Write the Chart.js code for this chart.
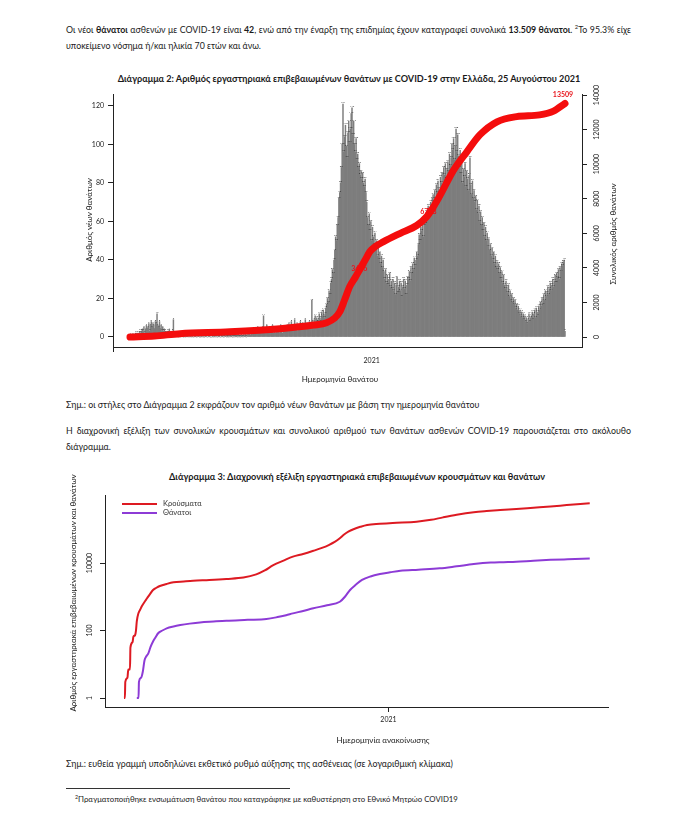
<!DOCTYPE html>
<html><head><meta charset="utf-8">
<script src="https://cdn.jsdelivr.net/npm/chart.js@4.4.1/dist/chart.umd.min.js"></script>
<style>
html,body{margin:0;padding:0;background:#fff;}
body{width:694px;height:817px;position:relative;overflow:hidden;font-family:Lato,"Noto Sans","DejaVu Sans",sans-serif;color:#1a1a1a;}
.t{position:absolute;white-space:nowrap;font-size:8.8px;line-height:12px;}
.t sup{font-size:5.8px;vertical-align:top;line-height:8px;position:relative;top:-1px;}
.ttl{position:absolute;white-space:nowrap;font-weight:bold;font-size:9.1px;line-height:12px;text-align:center;}
.fn{position:absolute;white-space:nowrap;font-size:7.8px;line-height:10px;}
.fn sup{font-size:5.3px;vertical-align:top;line-height:6px;}
canvas{position:absolute;left:0;}
</style></head>
<body>
<div class="t" data-w="565" style="left:66px;top:24px">Οι νέοι <b>θάνατοι</b> ασθενών με COVID-19 είναι <b>42</b>, ενώ από την έναρξη της επιδημίας έχουν καταγραφεί συνολικά <b>13.509 θάνατοι</b>. <sup>2</sup>Το 95.3% είχε</div>
<div class="t" style="left:66px;top:40px">υποκείμενο νόσημα ή/και ηλικία 70 ετών και άνω.</div>

<div class="ttl" style="left:0;width:698px;top:73px">Διάγραμμα 2: Αριθμός εργαστηριακά επιβεβαιωμένων θανάτων με COVID-19 στην Ελλάδα, 25 Αυγούστου 2021</div>
<canvas id="c2" width="694" height="306" style="top:84px"></canvas>

<div class="t" style="left:66px;top:399px">Σημ.: οι στήλες στο Διάγραμμα 2 εκφράζουν τον αριθμό νέων θανάτων με βάση την ημερομηνία θανάτου</div>
<div class="t" data-w="565" style="left:66px;top:425px">Η διαχρονική εξέλιξη των συνολικών κρουσμάτων και συνολικού αριθμού των θανάτων ασθενών COVID-19 παρουσιάζεται στο ακόλουθο</div>
<div class="t" style="left:66px;top:441px">διάγραμμα.</div>

<div class="ttl" style="left:0;width:714px;top:471px">Διάγραμμα 3: Διαχρονική εξέλιξη εργαστηριακά επιβεβαιωμένων κρουσμάτων και θανάτων</div>
<canvas id="c3" width="694" height="287" style="top:463px"></canvas>

<div class="t" style="left:66px;top:758px">Σημ.: ευθεία γραμμή υποδηλώνει εκθετικό ρυθμό αύξησης της ασθένειας (σε λογαριθμική κλίμακα)</div>
<div style="position:absolute;left:66px;top:788px;width:224px;height:0;border-top:1px solid #333;"></div>
<div class="fn" style="left:75px;top:794px"><sup>2</sup>Πραγματοποιήθηκε ενσωμάτωση θανάτου που καταγράφηκε με καθυστέρηση στο Εθνικό Μητρώο COVID19</div>

<script>
// ---------- Chart 2 data (daily deaths by date of death, from 12 Mar 2020 to 25 Aug 2021) ----------
const dailyDeaths = [
0,1,0,1,1,0,1,2,1,2, 1,2,3,2,3,4,3,5,2,4, 6,4,5,7,3,6,8,5,7,6, 4,8,7,12,6,5,8,4,6,3,
5,3,4,3,2,2,3,2,4,1, 2,1,3,9,1,2,1,1,2,0, 1,0,2,1,1,0,0,1,0,2, 1,0,1,0,1,0,1,0,0,1,
1,0,0,1,2,0,0,1,0,1, 0,0,1,1,0,0,1,2,0,0, 0,1,0,1,0,1,0,0,1,1, 0,0,1,1,0,0,2,1,0,1,
0,1,0,1,1,0,0,2,0,1, 1,0,2,0,1,0,2,1,0,2, 1,2,0,3,1,2,3,1,2,2, 2,3,2,4,2,3,5,2,4,3,
4,2,5,11,3,4,3,6,2,4, 4,3,5,3,6,2,4,3,2,5, 3,5,2,4,6,3,2,5,4,3, 5,4,6,3,7,5,4,8,6,5,
6,9,5,4,7,3,6,5,8,4, 5,7,4,6,9,5,7,6,4,8, 7,6,19,8,5,9,11,7,10,8, 9,12,10,8,13,11,14,10,12,15,
17,20,18,24,22,28,30,35,33,40, 45,52,50,58,62,72,75,80,88,100, 121,96,104,110,99,93,106,112,101,108,
116,119,105,112,100,96,103,92,95,88, 90,84,86,82,85,80,78,82,75,70, 62,58,64,55,60,50,57,52,48,54,
45,50,42,47,40,44,38,42,36,40, 34,30,35,28,32,27,30,33,26,29, 25,30,24,28,22,27,31,23,26,29,
24,28,21,26,30,25,29,22,27,31, 30,34,29,36,33,38,35,41,37,40, 44,42,48,53,50,57,55,60,52,58,
62,59,65,63,68,66,62,70,67,72, 74,70,76,72,79,75,81,77,73,83, 80,85,78,88,84,90,82,87,91,86,
95,89,93,100,97,103,92,99,108,96, 105,94,88,97,85,92,80,87,83,90, 78,86,82,76,84,93,79,74,81,72,
76,70,73,66,71,64,68,60,65,58, 62,55,59,52,57,50,54,47,51,45, 48,42,46,40,44,38,42,36,39,35,
38,33,36,30,34,28,32,27,25,29, 26,23,27,21,24,19,22,18,20,17, 19,15,17,14,16,12,14,11,13,10,
12,9,11,8,10,7,9,12,8,10, 11,13,9,12,14,10,15,13,11,16, 14,18,16,20,17,22,19,24,21,23,
26,22,25,28,24,27,30,26,29,32, 28,33,31,35,30,36,34,38,37,39, 40,3
];
// cumulative deaths (day index, total)
const cumDeathIdx = [0,30,61,122,183,224,240,250,256,262,268,275,281,287,293,300,309,330,350,362,370,378,395,411,427,448,472,500,517,531];
const cumDeathVal = [0,60,190,300,480,690,830,1100,1450,2150,2900,3450,3950,4450,4950,5250,5500,6000,6450,6950,7500,8150,9650,10700,11690,12450,12750,12850,13070,13509];
// labelled totals on the red line
const cumLabelIdx = [275,352,531];
const cumLabelVal = [3476,6733,13509];
// ticks
const leftTicks = [0,20,40,60,80,100,120];
const rightTicks = [0,2000,4000,6000,8000,10000,12000,14000];
const xTickIdx = [295];
const xTickLabels = ['2021'];
const titleLeft2 = 'Αριθμός νέων θανάτων';
const titleRight2 = 'Συνολικός αριθμός θανάτων';
const titleX2 = 'Ημερομηνία θανάτου';

// ---------- Chart 3 data (days since 26 Feb 2020, cumulative counts) ----------
const casesDay = [0,1,1.5,4,5,7,7.5,10,11,13,14,15,17,19,21,24,27,30,34,38,42,50,58,70,81,100,120,140,155,165,175,187,198,210,222,232,240,247,253,258,263,269,277,285,300,315,343,360,374,390,410,425,441,460,480,500,519,535,546];
const casesVal = [1,1,3,4,7,7,31,45,66,73,99,190,330,420,530,700,900,1160,1580,1850,2080,2400,2680,2850,3000,3150,3370,3700,4600,6000,8700,11800,15400,18500,23000,28000,34000,42000,54000,70000,85000,100000,118000,134000,145000,154000,167000,190000,225000,268000,318000,345000,370000,400000,436000,475000,520000,560000,585000];
const deathsDay = [15,17,17.5,20,22,24,26,28.5,31,34,37,40,45,50,58,66,77,89,105,120,145,167,180,190,198,210,222,238,253,259,265,272,279,289,300,312,324,345,370,390,410,430,445,460,480,500,520,546];
const deathsVal = [1,1,3,4,6,13,17,21,32,47,63,83,100,116,132,145,160,174,185,195,207,219,250,285,322,380,455,560,712,1000,1590,2300,3150,4000,4700,5300,5900,6350,6950,8000,9300,10300,10600,10900,11700,12400,12900,13500];
const seriesNames3 = ['Κρούσματα','Θάνατοι'];
const logTicks = [1,100,10000];
const x3TickDay = [310];
const x3TickLabels = ['2021'];
const titleY3 = 'Αριθμός εργαστηριακά επιβεβαιωμένων κρουσμάτων και θανάτων';
const titleX3 = 'Ημερομηνία ανακοίνωσης';

// ---------- helpers ----------
const FONT = 'Lato, "Noto Sans", "DejaVu Sans", sans-serif';
Chart.defaults.font.family = FONT;
Chart.defaults.color = '#222';

document.querySelectorAll('[data-w]').forEach(el => {
  const target = +el.dataset.w;
  const nat = el.getBoundingClientRect().width;
  const spaces = (el.textContent.match(/ /g) || []).length;
  if (spaces) el.style.wordSpacing = ((target - nat) / spaces) + 'px';
});

const axisTitlePlugin = {
  id: 'axisTitles',
  afterDraw(chart, args, opts) {
    const ctx = chart.ctx;
    (opts.items || []).forEach(it => {
      const sc = chart.options.scales[it.scale];
      const text = sc && sc.title && sc.title.text;
      if (!text) return;
      ctx.save();
      ctx.font = (it.size || 8) + 'px ' + FONT;
      ctx.fillStyle = it.color || '#222';
      ctx.textAlign = 'center';
      ctx.textBaseline = 'middle';
      ctx.translate(it.x, it.y);
      if (it.rot) ctx.rotate(it.rot * Math.PI / 180);
      ctx.fillText(text, 0, 0);
      ctx.restore();
    });
  }
};

const barLabelPlugin = {
  id: 'barLabels',
  afterDatasetDraw(chart, args, opts) {
    const meta = args.meta;
    if (meta.type !== 'bar') return;
    const ctx = chart.ctx;
    ctx.save();
    ctx.font = opts.size + 'px ' + FONT;
    ctx.fillStyle = opts.color;
    ctx.textAlign = 'center';
    ctx.textBaseline = 'bottom';
    const ds = chart.data.datasets[args.index];
    meta.data.forEach((el, i) => {
      ctx.fillText(String(ds.data[i].y), el.x, el.y - 0.3);
    });
    const xs = chart.scales.x, ys = chart.scales.y1;
    ctx.font = 'bold ' + opts.cumSize + 'px ' + FONT;
    ctx.fillStyle = opts.cumColor;
    ctx.textBaseline = 'middle';
    cumLabelIdx.forEach((ix, k) => {
      const off = opts.cumOffsets[k];
      ctx.fillText(String(cumLabelVal[k]), xs.getPixelForValue(ix) + off[0], ys.getPixelForValue(cumLabelVal[k]) + off[1]);
    });
    ctx.restore();
  }
};

const legendPlugin = {
  id: 'insideLegend',
  afterDatasetsDraw(chart, args, opts) {
    const ctx = chart.ctx;
    const {left, top} = chart.chartArea;
    ctx.save();
    chart.data.datasets.forEach((ds, k) => {
      const y = top + opts.y0 + k * opts.dy;
      ctx.strokeStyle = ds.borderColor;
      ctx.lineWidth = 2;
      ctx.beginPath();
      ctx.moveTo(left + opts.x0, y);
      ctx.lineTo(left + opts.x0 + opts.len, y);
      ctx.stroke();
      ctx.font = opts.size + 'px ' + FONT;
      ctx.fillStyle = '#333';
      ctx.textAlign = 'left';
      ctx.textBaseline = 'middle';
      ctx.fillText(ds.label, left + opts.x0 + opts.len + 6, y);
    });
    ctx.restore();
  }
};

const axisCommon = {
  grid: {drawOnChartArea: false, drawTicks: true, tickLength: 5, color: '#222'},
  border: {display: true, color: '#222', width: 1}
};

// ---------- Chart 2 ----------
new Chart(document.getElementById('c2'), {
  data: {
    datasets: [
      {
        type: 'line', label: titleRight2, yAxisID: 'y1', order: 0,
        data: cumDeathIdx.map((x, i) => ({x, y: cumDeathVal[i]})),
        borderColor: '#f40d0d', borderWidth: 7, pointRadius: 0,
        cubicInterpolationMode: 'monotone', borderCapStyle: 'round', borderJoinStyle: 'round', clip: false
      },
      {
        type: 'bar', label: titleLeft2, yAxisID: 'y', order: 1,
        data: dailyDeaths.map((y, x) => ({x, y})),
        backgroundColor: '#7d7d7d', barPercentage: 1, categoryPercentage: 1
      }
    ]
  },
  options: {
    responsive: false, animation: false, devicePixelRatio: 1,
    layout: {padding: {left: 78, right: 74, top: 10, bottom: 0}},
    plugins: {
      legend: {display: false}, tooltip: {enabled: false}, title: {display: false},
      barLabels: {size: 2.6, color: '#2a2a2a', cumSize: 7, cumColor: '#e8141b', cumOffsets: [[4, -8], [10, -9], [-2, -9]]},
      axisTitles: {items: [
        {scale: 'y', x: 89, y: 136, rot: -90, size: 8},
        {scale: 'y1', x: 613, y: 150, rot: -90, size: 8},
        {scale: 'x', x: 340, y: 295, rot: 0, size: 8}
      ]}
    },
    scales: {
      x: {
        type: 'linear', min: -20.75, max: 551.75, offset: false,
        afterBuildTicks: s => { s.ticks = xTickIdx.map(v => ({value: v})); },
        afterFit: s => { s.height = 43; },
        ticks: {callback: v => xTickLabels[xTickIdx.indexOf(v)] || '', font: {size: 7}, padding: 5, maxRotation: 0, autoSkip: false},
        title: {display: false, text: titleX2},
        ...axisCommon
      },
      y: {
        type: 'linear', position: 'left', min: -5.2, max: 126.2,
        afterBuildTicks: s => { s.ticks = leftTicks.map(v => ({value: v})); },
        afterFit: s => { s.width = 35; },
        ticks: {callback: v => String(v), font: {size: 7}, padding: 4},
        title: {display: false, text: titleLeft2},
        ...axisCommon
      },
      y1: {
        type: 'linear', position: 'right', min: -578, max: 14058,
        afterBuildTicks: s => { s.ticks = rightTicks.map(v => ({value: v})); },
        afterFit: s => { s.width = 38; },
        ticks: {callback: v => String(v), font: {size: 7}, padding: 0, minRotation: 90, maxRotation: 90, crossAlign: 'center'},
        title: {display: false, text: titleRight2},
        ...axisCommon
      }
    }
  },
  plugins: [barLabelPlugin, axisTitlePlugin]
});

// ---------- Chart 3 ----------
new Chart(document.getElementById('c3'), {
  type: 'line',
  data: {
    datasets: [
      {label: seriesNames3[0], data: casesDay.map((x, i) => ({x, y: casesVal[i]})), borderColor: '#dd1a22', borderWidth: 2, pointRadius: 0, cubicInterpolationMode: 'monotone'},
      {label: seriesNames3[1], data: deathsDay.map((x, i) => ({x, y: deathsVal[i]})), borderColor: '#8d3bd6', borderWidth: 2, pointRadius: 0, cubicInterpolationMode: 'monotone'}
    ]
  },
  options: {
    responsive: false, animation: false, devicePixelRatio: 1,
    layout: {padding: {left: 60, right: 86, top: 32, bottom: 0}},
    plugins: {
      legend: {display: false}, tooltip: {enabled: false},
      insideLegend: {x0: 17, len: 35, y0: 9, dy: 9, size: 7.5},
      axisTitles: {items: [
        {scale: 'y', x: 73, y: 130, rot: -90, size: 8},
        {scale: 'x', x: 383, y: 277, rot: 0, size: 8}
      ]}
    },
    scales: {
      x: {
        type: 'linear', min: -22.3, max: 567.4, offset: false,
        afterBuildTicks: s => { s.ticks = x3TickDay.map(v => ({value: v})); },
        afterFit: s => { s.height = 43; },
        ticks: {callback: v => x3TickLabels[x3TickDay.indexOf(v)] || '', font: {size: 7}, padding: 4, maxRotation: 0, autoSkip: false},
        title: {display: false, text: titleX3},
        ...axisCommon
      },
      y: {
        type: 'logarithmic', position: 'left', min: 0.5415, max: 1035000,
        afterBuildTicks: s => { s.ticks = logTicks.map(v => ({value: v})); },
        afterFit: s => { s.width = 45; },
        ticks: {callback: v => String(v), font: {size: 7}, padding: 0, minRotation: 90, maxRotation: 90, crossAlign: 'center'},
        title: {display: false, text: titleY3},
        ...axisCommon
      }
    }
  },
  plugins: [legendPlugin, axisTitlePlugin]
});
</script>
</body></html>
